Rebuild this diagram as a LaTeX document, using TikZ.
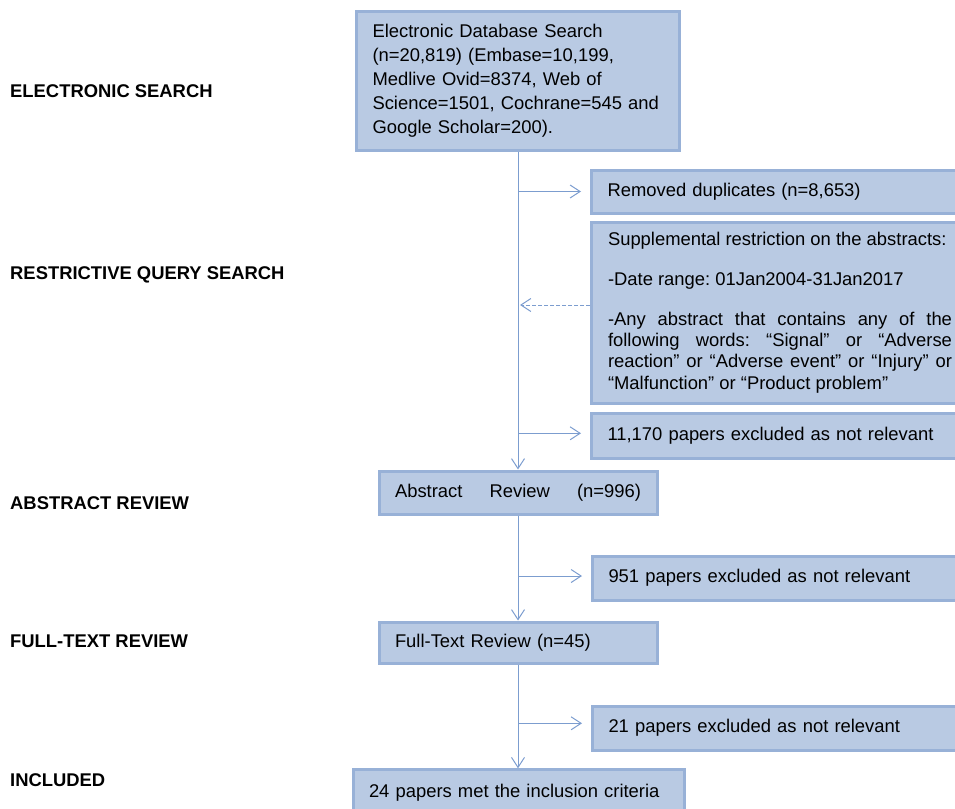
\documentclass[tikz,border=0pt]{standalone}
\usepackage{fontspec}
\setmainfont{Liberation Sans}
\usetikzlibrary{arrows.meta}
\hyphenpenalty=10000
\exhyphenpenalty=10000
\frenchspacing
\newcommand\nohyphs{\hyphenpenalty=10000\relax\exhyphenpenalty=10000\relax\frenchspacing}
\definecolor{boxfill}{HTML}{B9CAE3}
\definecolor{boxline}{HTML}{98B1D7}
\definecolor{conn}{HTML}{7C9DCF}
\tikzset{
  flowbox/.style={draw=boxline, line width=3pt, fill=boxfill, inner ysep=0pt, inner xsep=16pt,
    align=left, font=\fontsize{18.4}{24}\selectfont\nohyphs, text=black},
  sidelabel/.style={anchor=base west, inner sep=0pt, font=\fontsize{18.4}{22}\selectfont\bfseries},
  arr/.style={draw=conn, line width=1pt, -{Straight Barb[length=10pt,width=13pt]}},
  dasharr/.style={arr, dash pattern=on 4pt off 2pt}
}
\begin{document}
\begin{tikzpicture}[x=1pt,y=-1pt]
\useasboundingbox (0,0) rectangle (955,808);
\clip (0,0) rectangle (955,808);
% side labels
\node[sidelabel] (l1) at (10,97.3) {ELECTRONIC SEARCH};
\node[sidelabel] (l2) at (10,279.3) {RESTRICTIVE QUERY SEARCH};
\node[sidelabel] (l3) at (10,509) {ABSTRACT REVIEW};
\node[sidelabel] (l4) at (10,647) {FULL-TEXT REVIEW};
\node[sidelabel] (l5) at (10,786) {INCLUDED};
% main boxes
\node[flowbox, minimum width=323pt, minimum height=138pt, text width=291pt] (top) at (518,81)
  {Electronic Database Search (n=20,819) (Embase=10,199, Medlive Ovid=8374, Web of Science=1501, Cochrane=545 and Google Scholar=200).};
\node[flowbox, minimum width=278pt, minimum height=43pt, text width=246pt] (abs) at (518,492.5)
  {Abstract\hfill Review\hfill (n=996)};
\node[flowbox, minimum width=278pt, minimum height=41pt, text width=246pt] (full) at (518,642.5)
  {Full-Text Review (n=45)};
\node[flowbox, minimum width=331pt, minimum height=45pt, text width=299pt] (incl) at (518.5,792.3)
  {24 papers met the inclusion criteria};
% side boxes
\node[flowbox, anchor=west, minimum width=377pt, minimum height=43pt, text width=345pt] (dup) at (590,191.5)
  {Removed duplicates (n=8,653)};
\node[flowbox, anchor=west, minimum width=377pt, minimum height=181pt, text width=344pt, align=justify,
  font=\fontsize{18.4}{21.3}\selectfont\nohyphs] (supp) at (590,312.5)
  {Supplemental restriction on the abstracts:\par\vspace{18.7pt}
   -Date range: 01Jan2004-31Jan2017\par\vspace{18.7pt}
   -Any abstract that contains any of the following words: “Signal” or “Adverse reaction” or “Adverse event” or “Injury” or “Malfunction” or “Product problem”};
\node[flowbox, anchor=west, minimum width=377pt, minimum height=45pt, text width=345pt] (exc1) at (590,435.5)
  {11,170 papers excluded as not relevant};
\node[flowbox, anchor=west, minimum width=377pt, minimum height=44pt, text width=345pt] (exc2) at (591,578)
  {951 papers excluded as not relevant};
\node[flowbox, anchor=west, minimum width=377pt, minimum height=44pt, text width=345pt] (exc3) at (591,728)
  {21 papers excluded as not relevant};
% junctions on the main line
\coordinate (j1) at (518,191.5);
\coordinate (j2) at (520,305);
\coordinate (j3) at (518,433.3);
\coordinate (j4) at (518,576);
\coordinate (j5) at (518,723.3);
% vertical connectors
\draw[arr] (top.south) -- (abs.north);
\draw[arr] (abs.south) -- (full.north);
\draw[arr] (full.south) -- (incl.north -| full.south);
% horizontal connectors
\draw[arr] (j1) -- ([xshift=-9pt]dup.west |- j1);
\draw[dasharr] (supp.west |- j2) -- (j2);
\draw[arr] (j3) -- ([xshift=-9pt]exc1.west |- j3);
\draw[arr] (j4) -- ([xshift=-9pt]exc2.west |- j4);
\draw[arr] (j5) -- ([xshift=-9pt]exc3.west |- j5);
\end{tikzpicture}
\end{document}
